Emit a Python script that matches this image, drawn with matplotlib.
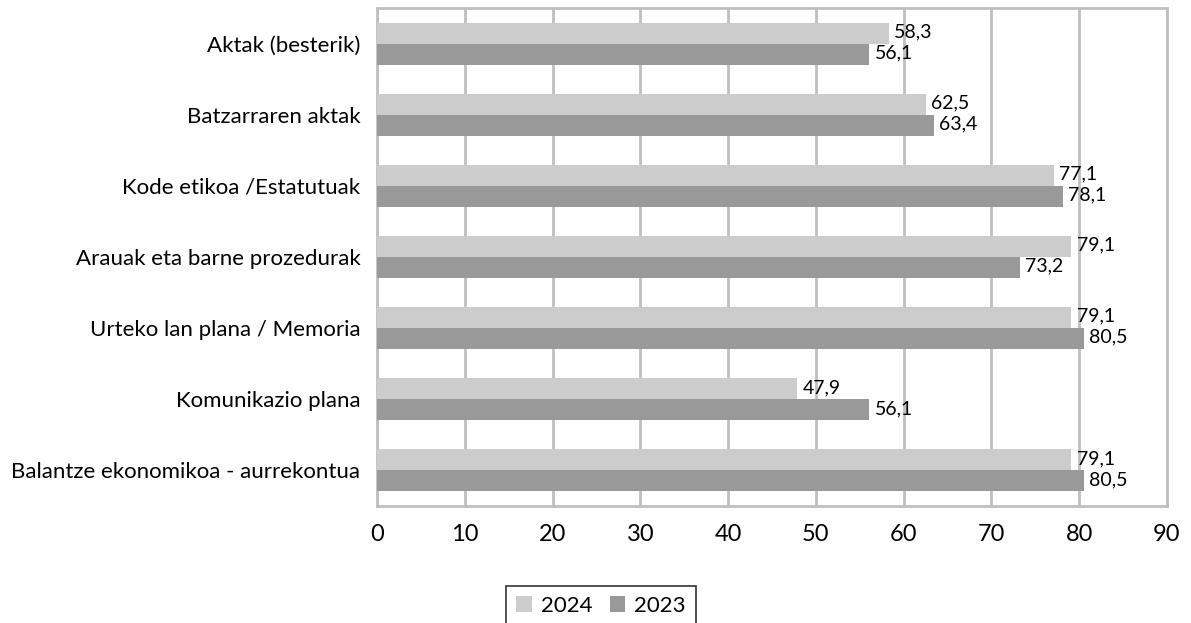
import matplotlib
matplotlib.use("Agg")
import matplotlib.pyplot as plt
import numpy as np

categories = ["Aktak (besterik)", "Batzarraren aktak", "Kode etikoa /Estatutuak",
              "Arauak eta barne prozedurak", "Urteko lan plana / Memoria",
              "Komunikazio plana", "Balantze ekonomikoa - aurrekontua"]
v2024 = [58.3, 62.5, 77.1, 79.1, 79.1, 47.9, 79.1]
v2023 = [56.1, 63.4, 78.1, 73.2, 80.5, 56.1, 80.5]
xticks = [0, 10, 20, 30, 40, 50, 60, 70, 80, 90]

plt.rcParams['font.family'] = ['Lato', 'DejaVu Sans']

fig = plt.figure(figsize=(11.91, 6.23), dpi=100)
ax = fig.add_axes([377/1191, 1-506/623, (1167-377)/1191, (506-8)/623])

n = len(categories)
y = np.arange(n)
h = 0.295
grid_c = "#BFBFBF"
ax.barh(y - h/2, v2024, height=h, color="#CCCCCC", label="2024", zorder=3)
ax.barh(y + h/2, v2023, height=h, color="#999999", label="2023", zorder=3)

def fmt(v):
    return f"{v:.1f}".replace(".", ",")

for yi, a, b in zip(y, v2024, v2023):
    ax.annotate(fmt(a), (a, yi - h/2), xytext=(4, 1), textcoords="offset points",
                va="center", ha="left", fontsize=14, zorder=4)
    ax.annotate(fmt(b), (b, yi + h/2), xytext=(4, 1), textcoords="offset points",
                va="center", ha="left", fontsize=14, zorder=4)

ax.set_ylim(n - 0.5, -0.5)
ax.set_xlim(0, 90)
ax.set_xticks(xticks)
ax.set_xticklabels([str(t) for t in xticks], fontsize=17)
ax.set_yticks(y)
ax.set_yticklabels(categories, fontsize=16)
ax.tick_params(axis="both", length=0)
ax.tick_params(axis="x", pad=13)
ax.tick_params(axis="y", pad=12)
ax.xaxis.grid(True, color=grid_c, linewidth=2, zorder=0)
ax.set_axisbelow(True)
for s in ax.spines.values():
    s.set_color(grid_c)
    s.set_linewidth(2)

leg = fig.legend(loc="center", bbox_to_anchor=(601/1191, 1-606/623), ncol=2,
                 fontsize=16, frameon=True, fancybox=False, edgecolor="black",
                 handlelength=0.7, handleheight=0.7, handletextpad=0.4,
                 columnspacing=0.8, borderpad=0.45, borderaxespad=0)
leg.get_frame().set_linewidth(1.2)

fig.savefig("out.png", dpi=100)
